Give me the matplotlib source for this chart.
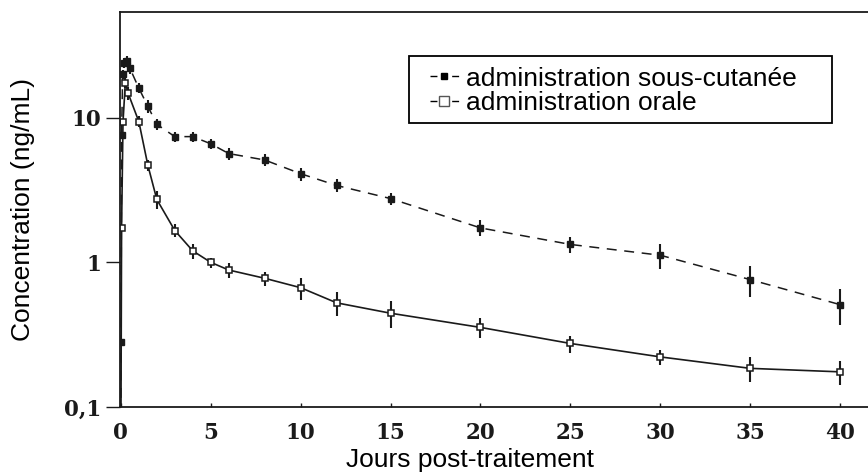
import matplotlib
matplotlib.use("Agg")
import matplotlib.pyplot as plt
from matplotlib.lines import Line2D
from matplotlib.patches import Rectangle
from matplotlib.ticker import NullLocator

# ---- data ----
sub_days = [0, 0.01, 0.04, 0.1, 0.2, 0.35, 0.5, 1, 1.5, 2, 3, 4, 5, 6, 8, 10, 12, 15, 20, 25, 30, 35, 40]
sub_conc = [0.05, 0.28, 7.6, 20, 24, 24.5, 22, 16, 12, 9, 7.4, 7.4, 6.6, 5.65, 5.1, 4.1, 3.4, 2.76, 1.73, 1.33, 1.12, 0.76, 0.51]
sub_sd = [0, 0, 0, 1.5, 2, 2, 2, 1.3, 1.2, 0.8, 0.6, 0.6, 0.5, 0.55, 0.5, 0.42, 0.35, 0.27, 0.22, 0.17, 0.22, 0.18, 0.14]

oral_days = [0, 0.04, 0.12, 0.25, 0.4, 1, 1.5, 2, 3, 4, 5, 6, 8, 10, 12, 15, 20, 25, 30, 35, 40]
oral_conc = [0.05, 1.74, 9.4, 17.5, 14.8, 9.4, 4.7, 2.72, 1.66, 1.2, 1.0, 0.885, 0.776, 0.668, 0.525, 0.445, 0.355, 0.275, 0.222, 0.185, 0.175]
oral_sd = [0, 0, 0, 1.5, 1.5, 0.8, 0.4, 0.4, 0.17, 0.14, 0.08, 0.1, 0.087, 0.115, 0.1, 0.095, 0.056, 0.037, 0.027, 0.035, 0.034]

x_ticks = [0, 5, 10, 15, 20, 25, 30, 35, 40]
y_ticks = [0.1, 1, 10]
y_tick_labels = ["0,1", "1", "10"]

label_sub = "administration sous-cutanée"
label_oral = "administration orale"
x_label = "Jours post-traitement"
y_label = "Concentration (ng/mL)"

# ---- figure ----
fig = plt.figure(figsize=(8.68, 4.72), dpi=100)
ax = fig.add_axes([0.1382, 0.1377, 0.8618, 0.8369])

ink = "#1a1a1a"
ax.errorbar(sub_days, sub_conc, yerr=sub_sd, color=ink, lw=1.1,
            linestyle=(0, (6.5, 5)), marker="s", ms=4.5, mfc=ink, mec=ink,
            elinewidth=1.5, ecolor=ink, capsize=0)
ax.errorbar(oral_days, oral_conc, yerr=oral_sd, color=ink, lw=1.2,
            linestyle="-", marker="s", ms=5, mfc="white", mec=ink, mew=1.1,
            elinewidth=1.5, ecolor=ink, capsize=0)

ax.set_yscale("log")
ax.set_xlim(-0.05, 41.55)
ax.set_ylim(0.1, 53.8)
ax.set_xticks(x_ticks)
ax.set_xticklabels([str(v) for v in x_ticks])
ax.set_yticks(y_ticks)
ax.set_yticklabels(y_tick_labels)
ax.yaxis.set_minor_locator(NullLocator())

for lab in ax.get_xticklabels() + ax.get_yticklabels():
    lab.set_fontfamily("DejaVu Serif")
    lab.set_fontweight("bold")
    lab.set_fontsize(15.5)

ax.tick_params(axis="x", direction="in", length=3, width=1, pad=11, colors=ink)
ax.tick_params(axis="y", direction="out", length=10, width=1, pad=3.5, colors=ink)

ax.spines["right"].set_visible(False)
for s in ["left", "top", "bottom"]:
    ax.spines[s].set_linewidth(1.3)
    ax.spines[s].set_color(ink)

ax.set_xlabel(x_label, fontfamily="Liberation Sans", fontsize=19)
ax.xaxis.set_label_coords(0.468, -0.105)
ax.set_ylabel(y_label, fontfamily="Liberation Sans", fontsize=19, labelpad=21)

# legend box (drawn as a frame) and legend entries
ax.add_patch(Rectangle((0.3864, 0.719), 0.5656, 0.1696, transform=ax.transAxes,
                       fill=True, fc="white", ec="black", lw=1.3, zorder=4.5))

h_sub = Line2D([], [], color="black", lw=1.0, dashes=(5, 10.6), marker="s",
               ms=5, mfc="black", mec="black")
h_oral = Line2D([], [], color="black", lw=1.0, dashes=(5, 10.6), marker="s",
                ms=7, mfc="white", mec="#555555", mew=1.0)
leg = ax.legend([h_sub, h_oral], [label_sub, label_oral],
                loc="upper left", bbox_to_anchor=(0.4144, 0.862),
                prop={"family": "Liberation Sans", "size": 19},
                handlelength=1.1, handletextpad=0.27, labelspacing=0.01,
                borderpad=0, borderaxespad=0, frameon=False)
leg.set_zorder(5)

fig.savefig("out.png", dpi=100)
